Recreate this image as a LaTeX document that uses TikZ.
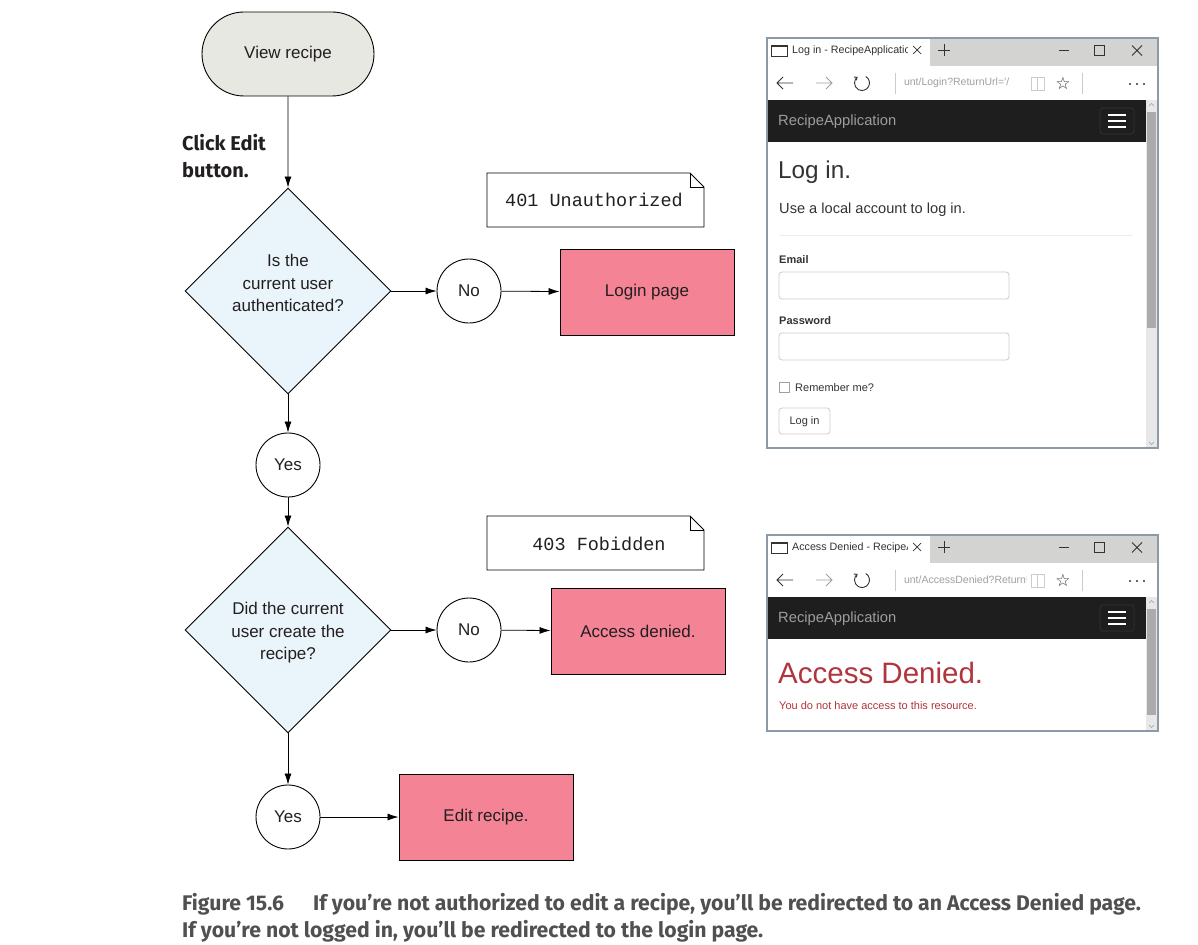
\documentclass[tikz,border=0pt]{standalone}
\usepackage{fontspec}
\setmainfont{Liberation Sans}
\setmonofont{Liberation Mono}
\newfontfamily\capfont{Fira Sans}
\newfontfamily\symfont{DejaVu Sans}
\usetikzlibrary{arrows.meta,shapes.geometric,shapes.misc}

\definecolor{inkdark}{HTML}{231F20}
\definecolor{recipegray}{HTML}{E8E8E3}
\definecolor{decisionblue}{HTML}{EAF4FB}
\definecolor{resultpink}{HTML}{F48396}
\definecolor{captiongray}{HTML}{505050}
\definecolor{framegray}{HTML}{8E99A8}
\definecolor{tabgray}{HTML}{D3D3D1}
\definecolor{navblack}{HTML}{1E1E1E}
\definecolor{navtext}{HTML}{9D9D9D}
\definecolor{scrolltrack}{HTML}{E8E8E8}
\definecolor{scrollthumb}{HTML}{ABABAB}
\definecolor{icondark}{HTML}{333333}
\definecolor{iconlight}{HTML}{A0A0A0}
\definecolor{fieldgray}{HTML}{CCCCCC}
\definecolor{deniedred}{HTML}{B0353C}

% browser chrome: #1 top, #2 height, #3 tab title, #4 address, #5 thumb end, #6 name prefix
\newcommand{\browserwin}[6]{%
\begin{scope}[shift={(767,#1)}, name prefix=#6-]
	\fill[tabgray] (0,0) rectangle (391,28);
	\fill[white] (1,1) rectangle (163,28);
	\fill[white] (0,28) rectangle (391,62);
	\fill[navblack] (1,62) rectangle (379,104);
	\fill[white] (1,104) rectangle (379,#2);
	\fill[scrolltrack] (379,62) rectangle (390,#2);
	\fill[scrollthumb] (380,74) rectangle (389,#5);
	\draw[iconlight, line width=0.5pt] (382,68) -- (384.5,65.5) -- (387,68);
	\draw[iconlight, line width=0.5pt] (382,#2-6) -- (384.5,#2-3.5) -- (387,#2-6);
	% tab
	\draw[icondark, line width=0.8pt] (4,7) rectangle (20,18);
	\draw[icondark, line width=1.6pt] (4,8.5) -- (20,8.5);
	\begin{scope}
		\clip (24,0) rectangle (140,28);
		\node[tabtext, anchor=west] (title) at (25,12.5) {#3};
	\end{scope}
	\draw[icondark, line width=0.7pt] (146,8) -- (154,16) (146,16) -- (154,8);
	\draw[icondark, line width=0.7pt] (171,12) -- (183,12) (177,6) -- (177,18);
	\draw[icondark, line width=0.8pt] (292,12.5) -- (302,12.5);
	\draw[icondark, line width=0.8pt] (327.5,7.5) rectangle (337.5,17.5);
	\draw[icondark, line width=0.8pt] (365,7.5) -- (375,17.5) (365,17.5) -- (375,7.5);
	% address bar
	\draw[icondark, line width=0.9pt] (26,45) -- (10,45) (16,39) -- (10,45) -- (16,51);
	\draw[iconlight, line width=0.9pt] (49,45) -- (65,45) (59,39) -- (65,45) -- (59,51);
	\draw[icondark, line width=0.9pt, -{Straight Barb[length=2.5pt,width=4pt]}] (95,45) ++(-60:7.5) arc (-60:235:7.5);
	\draw[fieldgray, line width=0.8pt] (128,35) -- (128,56) (315,35) -- (315,56);
	\begin{scope}
		\clip (137,30) rectangle (259,60);
		\node[urltext, anchor=west] (address) at (131,45) {#4};
	\end{scope}
	\draw[fieldgray, line width=0.8pt] (264,39) rectangle (277,52) (270.5,39) -- (270.5,52);
	\node[symbol] (star) at (296,45) {☆};
	\foreach \dx in {363,370,377}
		\fill[icondark] (\dx,46) circle (1.1);
	% navigation bar
	\node[navlabel, anchor=west] (brand) at (11,83.5) {RecipeApplication};
	\draw[icondark, rounded corners=3pt, line width=0.7pt] (333,70) rectangle (367,96);
	\foreach \dy in {77,83,89}
		\draw[white, line width=1.8pt] (341,\dy) -- (359,\dy);
	% frame
	\draw[framegray, line width=1.3pt] (0,0) rectangle (391,#2);
\end{scope}}

\begin{document}
\begin{tikzpicture}[x=1pt, y=-1pt,
	every node/.style={inner sep=0pt, text=inkdark, font=\fontsize{17}{22.5}\selectfont},
	terminal/.style={rounded rectangle, draw, fill=recipegray, line width=0.9pt, minimum width=172pt, minimum height=84pt},
	decision/.style={diamond, draw, fill=decisionblue, line width=0.9pt, minimum width=206pt, minimum height=206pt},
	question/.style={align=center},
	answer/.style={circle, draw, fill=white, line width=0.9pt, minimum size=64pt},
	outcome/.style={rectangle, draw, fill=resultpink, line width=0.9pt, minimum width=174pt, minimum height=86pt},
	statustext/.style={font=\ttfamily\fontsize{18.5}{20}\selectfont},
	notepath/.style={draw, fill=white, line width=0.9pt},
	flow/.style={-{Latex[length=11pt,width=7pt]}, line width=0.8pt},
	clicklabel/.style={font=\capfont\bfseries\fontsize{20}{27}\selectfont, align=left},
	caption/.style={text=captiongray, font=\capfont\bfseries\fontsize{21.2}{26}\selectfont},
	tabtext/.style={text=icondark, font=\fontsize{10.7}{12}\selectfont},
	urltext/.style={text=iconlight, font=\fontsize{10.5}{12}\selectfont},
	navlabel/.style={text=navtext, font=\fontsize{14.75}{16}\selectfont},
	symbol/.style={text=icondark, font=\symfont\fontsize{17}{18}\selectfont},
	pagetext/.style={text=icondark, anchor=west}]
	\useasboundingbox (0,0) rectangle (1198,944);

	% flow chart
	\node[terminal] (view) at (288,54) {View recipe};
	\node[clicklabel, anchor=north west] (click) at (182,134) {Click Edit\\button.};
	\node[decision] (auth) at (288,291) {};
	\node[question] (authq) at (288,283) {Is the\\current user\\authenticated?};
	\node[answer] (authno) at (469,291) {No};
	\node[outcome] (login) at (647,292) {Login page};
	\node[answer] (authyes) at (288,465) {Yes};
	\node[decision] (owner) at (288,630) {};
	\node[question] (ownerq) at (288,633) {Did the current\\user create the\\recipe?};
	\node[answer] (ownerno) at (469,630) {No};
	\node[outcome] (denied) at (638,631) {Access denied.};
	\node[answer] (owneryes) at (288,817) {Yes};
	\node[outcome] (edit) at (486,817) {Edit recipe.};

	\draw[flow] (view) -- (auth);
	\draw[flow] (auth) -- (authno);
	\draw[flow] (authno) -- (login);
	\draw[flow] (auth) -- (authyes);
	\draw[flow] (authyes) -- (owner);
	\draw[flow] (owner) -- (ownerno);
	\draw[flow] (ownerno) -- (denied);
	\draw[flow] (owner) -- (owneryes);
	\draw[flow] (owneryes) -- (edit);

	% status notes
	\draw[notepath] (487,173) -- (690,173) -- (704,187) -- (704,227) -- (487,227) -- cycle;
	\draw[line width=0.9pt] (690,173) |- (704,187);
	\node[statustext] (unauth) at (594,200) {401 Unauthorized};
	\draw[notepath] (487,516) -- (690,516) -- (704,530) -- (704,570) -- (487,570) -- cycle;
	\draw[line width=0.9pt] (690,516) |- (704,530);
	\node[statustext] (forbid) at (599,543.5) {403 Fobidden};

	% login page screenshot
	\browserwin{38}{410}{Log in - RecipeApplication}{ount/Login?ReturnUrl='/}{290}{loginwin}
	\begin{scope}[shift={(767,38)}]
		\node[pagetext, font=\fontsize{24.3}{26}\selectfont] (loginhead) at (11,134) {Log in.};
		\node[pagetext, font=\fontsize{14.6}{16}\selectfont] (loginsub) at (12,171.5) {Use a local account to log in.};
		\draw[black!7, line width=0.8pt] (12,197) -- (366,197);
		\node[pagetext, font=\bfseries\fontsize{11}{12}\selectfont] (emaillabel) at (12,221.5) {Email};
		\draw[fieldgray, rounded corners=3pt, line width=0.8pt] (12,234) rectangle (242,261);
		\node[pagetext, font=\bfseries\fontsize{11}{12}\selectfont] (pwlabel) at (12,282.5) {Password};
		\draw[fieldgray, rounded corners=3pt, line width=0.8pt] (12,295) rectangle (242,322);
		\draw[iconlight, line width=0.8pt] (12.5,344.5) rectangle (22,354);
		\node[pagetext, font=\fontsize{11}{12}\selectfont] (remember) at (28,349.5) {Remember me?};
		\draw[fieldgray, rounded corners=3pt, line width=0.8pt] (12,370) rectangle (63,396);
		\node[text=icondark, font=\fontsize{11}{12}\selectfont] (loginbtn) at (37.5,383.5) {Log in};
	\end{scope}

	% access denied screenshot
	\browserwin{535}{196}{Access Denied - RecipeApplication}{ount/AccessDenied?ReturnUrl}{180}{deniedwin}
	\begin{scope}[shift={(767,535)}]
		\node[pagetext, text=deniedred, font=\fontsize{29.5}{31}\selectfont] (deniedhead) at (11,138) {Access Denied.};
		\node[pagetext, text=deniedred, font=\fontsize{11}{12}\selectfont] (deniedsub) at (12,171) {You do not have access to this resource.};
	\end{scope}

	% caption
	\node[caption, anchor=base west] (figlabel) at (182,910) {Figure 15.6};
	\node[caption, anchor=base west] (capline1) at (313,910) {If you’re not authorized to edit a recipe, you’ll be redirected to an Access Denied page.};
	\node[caption, anchor=base west] (capline2) at (182,937) {If you’re not logged in, you’ll be redirected to the login page.};
\end{tikzpicture}
\end{document}
